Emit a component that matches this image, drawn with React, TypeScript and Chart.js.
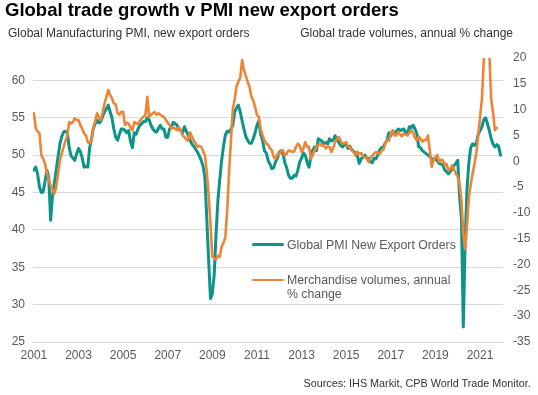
import React, { useEffect, useRef } from "react";
import { Chart, registerables } from "chart.js";

Chart.register(...registerables);

// Monthly series, starting January 2001
const START_YEAR = 2001;

// Global Manufacturing PMI, new export orders (index), Jan 2001 – Dec 2021
const pmiNewExportOrders: number[] = [
  48.0, 48.4, 47.5, 45.7, 45.0, 45.1, 46.5, 48.0, 47.0, 41.3, 44.5, 46.2, // 2001
  48.0, 49.8, 51.5, 52.5, 53.1, 53.2, 53.0, 51.0, 49.9, 49.6, 49.3, 50.2, // 2002
  50.9, 50.5, 49.6, 48.4, 48.5, 48.4, 51.0, 52.2, 53.6, 54.2, 54.7, 54.3, // 2003
  54.5, 55.2, 55.8, 56.2, 56.7, 55.8, 55.0, 53.5, 52.4, 52.0, 52.8, 53.5, // 2004
  53.5, 53.3, 53.0, 53.3, 51.8, 51.0, 53.0, 52.8, 53.5, 54.0, 54.2, 54.5, // 2005
  54.5, 55.0, 54.7, 54.0, 53.5, 53.2, 53.1, 53.6, 54.0, 53.5, 53.5, 52.4, // 2006
  52.4, 53.5, 53.8, 54.4, 54.2, 54.0, 53.5, 53.3, 53.0, 53.8, 53.2, 52.7, // 2007
  52.0, 51.5, 51.2, 50.8, 50.4, 49.9, 49.3, 48.5, 47.0, 41.5, 36.0, 30.8, // 2008
  31.5, 34.0, 39.5, 44.0, 46.8, 49.3, 51.2, 52.7, 53.2, 53.1, 53.5, 54.0, // 2009
  55.8, 56.3, 56.7, 55.8, 54.6, 53.5, 52.5, 52.0, 51.6, 51.6, 52.2, 53.0, // 2010
  54.0, 54.6, 52.8, 52.0, 50.6, 50.3, 49.3, 48.8, 48.2, 48.3, 49.1, 49.6, // 2011
  50.4, 50.6, 50.2, 49.0, 48.3, 47.3, 46.9, 46.9, 47.3, 47.2, 48.0, 49.1, // 2012
  49.6, 50.3, 50.0, 49.0, 48.4, 49.8, 50.7, 51.1, 50.6, 52.2, 52.0, 51.9, // 2013
  51.5, 51.7, 51.5, 52.2, 51.9, 52.0, 52.6, 52.2, 51.7, 51.3, 51.1, 51.4, // 2014
  51.5, 50.9, 51.2, 50.7, 50.5, 50.3, 49.9, 48.9, 49.5, 49.7, 50.0, 49.6, // 2015
  49.6, 49.1, 49.0, 49.6, 49.5, 50.0, 50.7, 51.0, 51.1, 51.6, 52.0, 53.0, // 2016
  52.6, 53.2, 53.0, 53.2, 53.5, 53.3, 53.4, 53.5, 53.0, 52.9, 53.8, 53.7, // 2017
  54.0, 53.5, 52.9, 51.1, 51.0, 50.6, 50.4, 50.2, 50.0, 49.8, 49.5, 49.5, // 2018
  49.5, 49.2, 48.9, 48.8, 48.7, 48.0, 47.8, 47.5, 47.8, 48.2, 48.6, 48.9, // 2019
  49.3, 44.5, 41.5, 27.0, 38.5, 45.5, 49.0, 51.0, 51.5, 51.3, 51.6, 52.8, // 2020
  53.3, 53.8, 54.7, 55.0, 54.2, 53.3, 52.2, 51.5, 51.1, 51.4, 51.2, 50.0, // 2021
];

// Merchandise trade volumes, annual % change, Jan 2001 – Oct 2021
const merchandiseVolumes: number[] = [
  9.3, 6.3, 5.8, 5.4, 1.2, 0.5, -0.5, -2.4, -3.5, -4.7, -5.5, -6.3, // 2001
  -5.0, -2.5, 0.2, 1.5, 2.8, 4.0, 5.0, 7.6, 7.3, 7.6, 8.3, 8.0, // 2002
  8.0, 7.0, 6.3, 5.4, 5.0, 3.7, 3.5, 4.0, 6.6, 7.8, 9.3, 8.5, // 2003
  8.0, 9.5, 11.2, 12.5, 13.8, 12.8, 12.2, 11.2, 11.0, 9.3, 9.0, 9.6, // 2004
  9.6, 7.0, 7.5, 7.3, 6.5, 6.0, 7.6, 7.3, 7.3, 7.8, 8.3, 8.6, // 2005
  9.0, 12.5, 8.6, 9.0, 9.3, 9.5, 9.0, 9.3, 9.0, 8.8, 8.6, 8.0, // 2006
  7.5, 7.0, 6.3, 6.5, 6.3, 6.0, 6.6, 6.0, 5.0, 4.7, 4.2, 4.0, // 2007
  5.6, 4.8, 4.0, 3.5, 2.8, 3.0, 2.8, 2.0, 1.2, -2.0, -6.5, -12.1, // 2008
  -18.5, -18.8, -19.0, -18.3, -18.5, -16.5, -15.8, -14.7, -9.5, -2.0, 4.0, 10.0, // 2009
  12.0, 14.5, 15.4, 16.2, 19.6, 17.7, 16.5, 15.4, 14.4, 12.5, 11.8, 10.5, // 2010
  9.0, 8.6, 6.3, 5.0, 4.1, 3.4, 3.2, 2.5, 2.1, 0.8, 0.5, 1.4, // 2011
  1.4, 2.1, 2.1, 1.1, 1.5, 2.1, 2.0, 1.8, 1.9, 2.8, 3.4, 3.0, // 2012
  1.8, 2.5, 3.7, 2.8, 2.8, 0.5, 1.2, 2.1, 2.8, 3.1, 3.4, 3.0, // 2013
  3.2, 2.5, 2.8, 2.8, 1.8, 2.5, 3.7, 4.2, 4.7, 4.0, 3.4, 3.5, // 2014
  3.7, 2.8, 2.8, 2.1, 1.8, 1.1, 1.8, 1.5, 1.6, 1.0, 0.8, 0.6, // 2015
  -0.1, 0.6, 1.1, 1.5, 1.8, 1.5, 1.4, 2.1, 2.2, 3.4, 4.1, 4.0, // 2016
  5.4, 6.0, 5.0, 5.0, 5.7, 5.2, 4.8, 5.4, 5.2, 5.0, 5.5, 6.0, // 2017
  5.5, 4.5, 4.1, 4.8, 4.3, 3.8, 4.1, 4.1, 5.0, 2.0, -1.1, 0.2, // 2018
  0.8, 1.2, -0.1, 0.3, 0.2, -0.8, -0.5, -1.8, -1.5, -0.8, -1.5, -2.4, // 2019
  -3.0, -4.5, -7.6, -14.0, -17.0, -12.5, -7.0, -4.5, -2.4, -0.5, 1.5, 5.0, // 2020
  8.5, 12.0, 19.5, 28.0, 26.0, 21.0, 12.0, 9.5, 6.0, 6.5, // 2021
];

const xTickYears = [2001, 2003, 2005, 2007, 2009, 2011, 2013, 2015, 2017, 2019, 2021];
const leftAxis = { min: 25, max: 63, step: 5 };
const rightAxis = { min: -35, max: 20, step: 5 };
const xRange = { min: 2000.96, max: 2022.03 };

const TITLE = "Global trade growth v PMI new export orders";
const LEFT_TITLE = "Global Manufacturing PMI, new export orders";
const RIGHT_TITLE = "Global trade volumes, annual % change";
const SERIES_PMI = "Global PMI New Export Orders";
const SERIES_TRADE_1 = "Merchandise volumes, annual";
const SERIES_TRADE_2 = "% change";
const SOURCE = "Sources: IHS Markit, CPB World Trade Monitor.";

const TEAL = "#0B9487";
const ORANGE = "#EE8536";
const TICK_COLOR = "#595959";
const GRID_COLOR = "#D9D9D9";
const FONT = "'Liberation Sans', Arial, Helvetica, sans-serif";

const toPoints = (vals: number[]) =>
  vals.map((v, i) => ({ x: START_YEAR + i / 12, y: v }));

export default function App() {
  const canvasRef = useRef<HTMLCanvasElement | null>(null);

  useEffect(() => {
    const canvas = canvasRef.current;
    if (!canvas) return;
    const tickFont = { family: FONT, size: 12 };
    const chart = new Chart(canvas, {
      type: "line",
      data: {
        datasets: [
          {
            label: SERIES_TRADE_1 + " " + SERIES_TRADE_2,
            data: toPoints(merchandiseVolumes),
            yAxisID: "yRight",
            borderColor: ORANGE,
            backgroundColor: ORANGE,
            borderWidth: 2.6,
            pointRadius: 0,
            tension: 0,
            borderJoinStyle: "round",
            borderCapStyle: "round",
            fill: false,
          },
          {
            label: SERIES_PMI,
            data: toPoints(pmiNewExportOrders),
            yAxisID: "yLeft",
            borderColor: TEAL,
            backgroundColor: TEAL,
            borderWidth: 3,
            pointRadius: 0,
            tension: 0,
            borderJoinStyle: "round",
            borderCapStyle: "round",
            fill: false,
          },
        ],
      },
      options: {
        responsive: false,
        animation: false,
        events: [],
        layout: { padding: { left: 0, right: 0, top: 58, bottom: 0 } },
        plugins: {
          legend: { display: false },
          title: { display: false },
          tooltip: { enabled: false },
        },
        scales: {
          x: {
            type: "linear",
            min: xRange.min,
            max: xRange.max,
            afterBuildTicks: (scale: any) => {
              scale.ticks = xTickYears.map((v) => ({ value: v }));
            },
            afterFit: (scale: any) => {
              scale.height = 53;
            },
            grid: { display: false, drawTicks: false },
            border: { display: false },
            ticks: {
              autoSkip: false,
              maxRotation: 0,
              padding: 6,
              color: TICK_COLOR,
              font: tickFont,
              callback: (v: any) => String(v),
            },
          },
          yLeft: {
            type: "linear",
            position: "left",
            min: leftAxis.min,
            max: leftAxis.max,
            afterFit: (scale: any) => {
              scale.width = 33;
            },
            grid: { color: GRID_COLOR, lineWidth: 1, drawTicks: false },
            border: { display: false },
            ticks: {
              stepSize: leftAxis.step,
              includeBounds: false,
              padding: 8,
              color: TICK_COLOR,
              font: tickFont,
              callback: (v: any) => String(v),
            },
          },
          yRight: {
            type: "linear",
            position: "right",
            min: rightAxis.min,
            max: rightAxis.max,
            afterFit: (scale: any) => {
              scale.width = 35;
            },
            grid: { display: false, drawTicks: false },
            border: { display: false },
            ticks: {
              stepSize: rightAxis.step,
              padding: 10,
              color: TICK_COLOR,
              font: tickFont,
              callback: (v: any) => String(v),
            },
          },
        },
      },
    } as any);
    return () => chart.destroy();
  }, []);

  const abs = (s: React.CSSProperties): React.CSSProperties => ({
    position: "absolute",
    margin: 0,
    whiteSpace: "nowrap",
    ...s,
  });

  return (
    <div
      style={{
        position: "fixed",
        left: 0,
        top: 0,
        width: 538,
        height: 395,
        background: "#ffffff",
        fontFamily: FONT,
        overflow: "hidden",
      }}
    >
      <canvas
        ref={canvasRef}
        width={538}
        height={395}
        style={{ position: "absolute", left: 0, top: 0, width: 538, height: 395, display: "block" }}
      />
      <div style={abs({ left: 5, top: 1.3, fontSize: 18.5, lineHeight: "18.5px", fontWeight: 700, color: "#000" })}>
        {TITLE}
      </div>
      <div style={abs({ left: 8, top: 26.1, fontSize: 12, lineHeight: "14px", color: "#333" })}>
        {LEFT_TITLE}
      </div>
      <div style={abs({ right: 25, top: 26.1, fontSize: 12, lineHeight: "14px", color: "#333", textAlign: "right" })}>
        {RIGHT_TITLE}
      </div>

      {/* legend */}
      <div style={abs({ left: 252, top: 243, width: 32, height: 3, background: TEAL, borderRadius: 1.5 })} />
      <div style={abs({ left: 287, top: 237.7, fontSize: 12.3, lineHeight: "14px", color: TICK_COLOR })}>
        {SERIES_PMI}
      </div>
      <div style={abs({ left: 252, top: 278.7, width: 32, height: 2.6, background: ORANGE, borderRadius: 1.3 })} />
      <div style={abs({ left: 287, top: 272.6, fontSize: 12.3, lineHeight: "14.3px", color: TICK_COLOR })}>
        {SERIES_TRADE_1}
        <br />
        {SERIES_TRADE_2}
      </div>

      <div style={abs({ right: 7.3, top: 377, fontSize: 10.8, lineHeight: "13px", color: "#333", textAlign: "right" })}>
        {SOURCE}
      </div>
    </div>
  );
}
